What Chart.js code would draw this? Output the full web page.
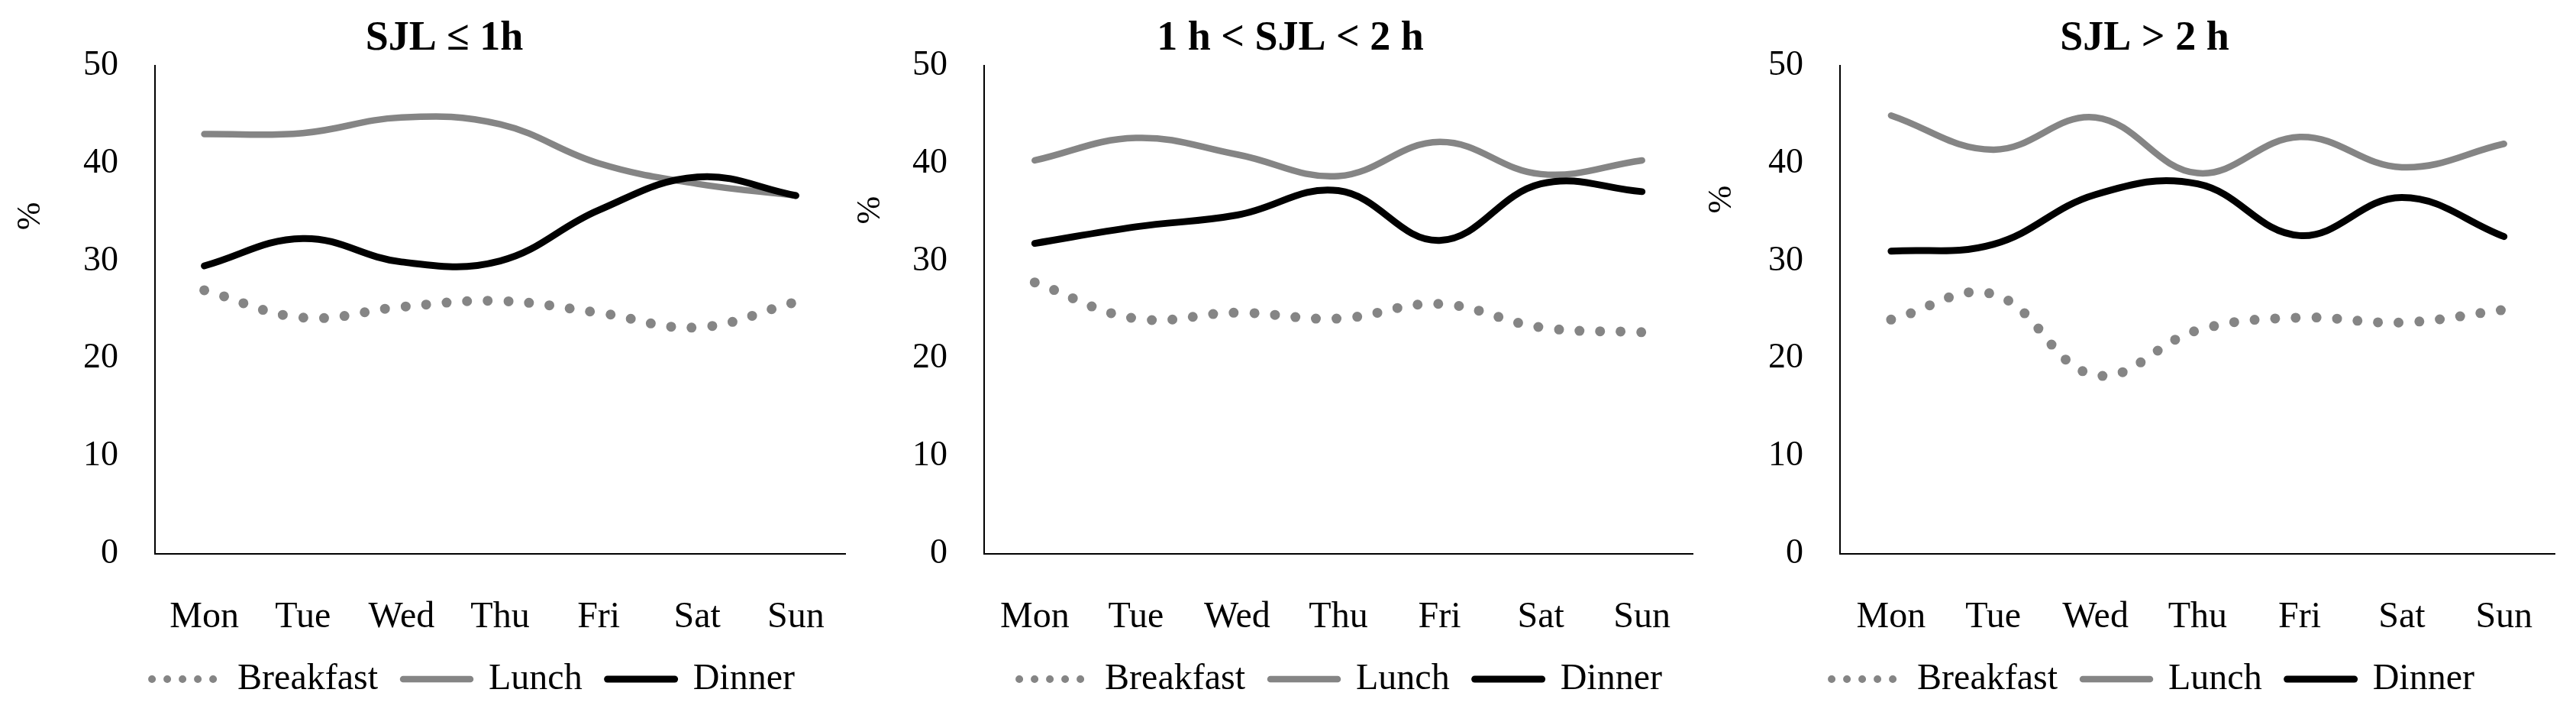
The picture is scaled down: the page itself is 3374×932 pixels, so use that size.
<!DOCTYPE html>
<html>
<head>
<meta charset="utf-8">
<script src="https://cdn.jsdelivr.net/npm/chart.js@4.4.1/dist/chart.umd.min.js"></script>
<style>
html, body { margin: 0; padding: 0; background: #fff; overflow: hidden; }
body { width: 3374px; height: 932px; position: relative; }
canvas { position: absolute; top: 0; }
</style>
</head>
<body>
<canvas id="chart1" width="1150" height="930" style="left:0px"></canvas>
<canvas id="chart2" width="1160" height="930" style="left:1100px"></canvas>
<canvas id="chart3" width="1159" height="930" style="left:2215px"></canvas>
<script>
// data (% of meals)
const days = ['Mon', 'Tue', 'Wed', 'Thu', 'Fri', 'Sat', 'Sun'];
const series_names = ['Breakfast', 'Lunch', 'Dinner'];
const titles = ['SJL \u2264 1h', '1 h < SJL < 2 h', 'SJL > 2 h'];

const breakfast_1 = [27.0, 24.2, 25.3, 25.9, 24.7, 23.2, 25.8];
const lunch_1 = [43.0, 43.1, 44.7, 44.0, 40.0, 37.9, 36.7];
const dinner_1 = [29.5, 32.3, 29.9, 30.0, 35.2, 38.6, 36.7];

const breakfast_2 = [27.8, 24.1, 24.7, 24.1, 25.6, 23.2, 22.7];
const lunch_2 = [40.3, 42.6, 40.9, 38.7, 42.2, 38.9, 40.3];
const dinner_2 = [31.8, 33.5, 34.7, 37.2, 32.1, 37.9, 37.1];

const breakfast_3 = [24.0, 26.6, 18.3, 22.9, 24.2, 23.7, 25.0];
const lunch_3 = [44.9, 41.4, 44.7, 39.0, 42.7, 39.6, 42.0];
const dinner_3 = [31.0, 31.7, 36.8, 37.9, 32.6, 36.5, 32.5];

const serif = '"Liberation Serif", "Times New Roman", serif';
const grey = '#858585';

// line looks, same order as series_names
const series_style = [
    { color: grey, width: 13, dash: [0, 27], legendWidth: 10, legendDash: [0, 20] },
    { color: grey, width: 8.5, dash: [], legendWidth: 8.5, legendDash: [] },
    { color: '#000', width: 9, dash: [], legendWidth: 9, legendDash: [] }
];

// canvas-local layout of each panel
const panels = [
    { id: 'chart1', axisWidth: 203, padRight: 43, titleAt: 582, legendAt: 620, unitAt: 34.6 },
    { id: 'chart2', axisWidth: 189, padRight: 43, titleAt: 590, legendAt: 656, unitAt: 35.2 },
    { id: 'chart3', axisWidth: 195, padRight: 27, titleAt: 594, legendAt: 605, unitAt: 36.3 }
];

const panelShift = {
    id: 'panelShift',
    afterLayout(chart, args, opts) {
        const t = chart.titleBlock;
        const dt = opts.title - (t.left + t.right) / 2;
        t.left += dt; t.right += dt;
        const l = chart.legend;
        const dl = opts.legend - (l.left + l.right) / 2;
        l.left += dl; l.right += dl;
    }
};

const unitLabel = {
    id: 'unitLabel',
    afterDraw(chart, args, opts) {
        const ctx = chart.ctx;
        const y = chart.scales.y.getPixelForValue(opts.value);
        ctx.save();
        ctx.translate(opts.x, y);
        ctx.rotate(-Math.PI / 2);
        ctx.font = '44px ' + serif;
        ctx.fillStyle = '#000';
        ctx.textAlign = 'center';
        ctx.textBaseline = 'middle';
        ctx.fillText('%', 0, 0);
        ctx.restore();
    }
};

function makeChart(panel, title, values) {
    const datasets = values.map((v, i) => ({
        label: series_names[i],
        data: v,
        borderColor: series_style[i].color,
        backgroundColor: series_style[i].color,
        borderWidth: series_style[i].width,
        borderDash: series_style[i].dash,
        borderCapStyle: 'round',
        borderJoinStyle: 'round',
        order: 3 - i
    }));
    return new Chart(document.getElementById(panel.id), {
        type: 'line',
        data: { labels: days, datasets: datasets },
        options: {
            responsive: false,
            animation: false,
            devicePixelRatio: 1,
            elements: { point: { radius: 0 }, line: { tension: 0.4 } },
            layout: { padding: { left: 0, right: panel.padRight, top: 0, bottom: 7 } },
            scales: {
                x: {
                    offset: true,
                    grid: { display: false, drawTicks: false },
                    border: { display: true, color: '#000', width: 2 },
                    ticks: { color: '#000', padding: 55, maxRotation: 0, autoSkip: false, font: { family: serif, size: 48 } },
                    afterFit: s => { s.height = 107; }
                },
                y: {
                    min: 0,
                    max: 50,
                    grid: { display: false, drawTicks: false },
                    border: { display: true, color: '#000', width: 2 },
                    ticks: { stepSize: 10, color: '#000', padding: 48, font: { family: serif, size: 46 } },
                    afterFit: s => { s.width = panel.axisWidth; }
                }
            },
            plugins: {
                title: {
                    display: true,
                    text: title,
                    color: '#000',
                    font: { family: serif, size: 54, weight: 'bold', lineHeight: 1 },
                    padding: { top: 24, bottom: 8 }
                },
                legend: {
                    position: 'bottom',
                    labels: {
                        usePointStyle: true,
                        pointStyle: 'line',
                        pointStyleWidth: 88,
                        padding: 33,
                        color: '#000',
                        font: { family: serif, size: 48 },
                        generateLabels: chart => chart.data.datasets.map((ds, i) => ({
                            text: ds.label,
                            fontColor: '#000',
                            strokeStyle: series_style[i].color,
                            fillStyle: series_style[i].color,
                            lineWidth: series_style[i].legendWidth,
                            lineDash: series_style[i].legendDash,
                            lineCap: 'round',
                            pointStyle: 'line',
                            hidden: false,
                            datasetIndex: i
                        }))
                    }
                },
                tooltip: { enabled: false },
                panelShift: { title: panel.titleAt, legend: panel.legendAt },
                unitLabel: { x: 40, value: panel.unitAt }
            }
        },
        plugins: [panelShift, unitLabel]
    });
}

makeChart(panels[0], titles[0], [breakfast_1, lunch_1, dinner_1]);
makeChart(panels[1], titles[1], [breakfast_2, lunch_2, dinner_2]);
makeChart(panels[2], titles[2], [breakfast_3, lunch_3, dinner_3]);
</script>
</body>
</html>
